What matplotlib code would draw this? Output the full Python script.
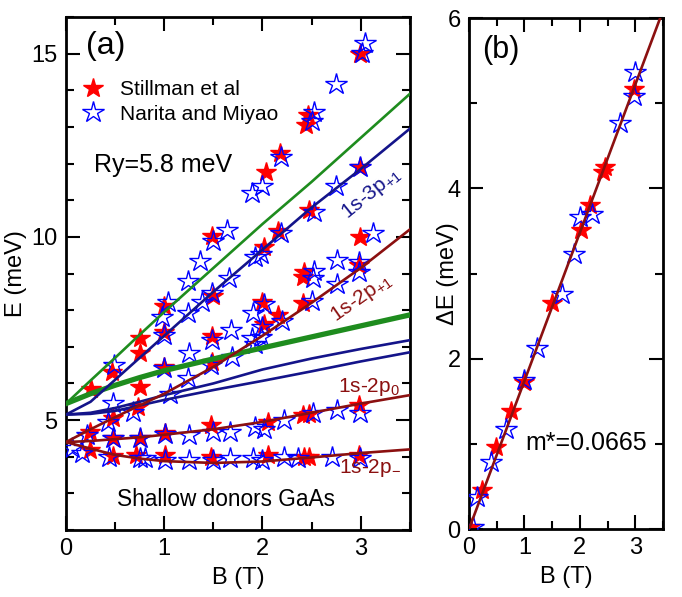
import numpy as np
import matplotlib
matplotlib.use('Agg')
import matplotlib.pyplot as plt
import matplotlib.ticker as ticker

plt.rcParams['font.family'] = ['Liberation Sans', 'DejaVu Sans']
plt.rcParams['mathtext.fontset'] = 'custom'
plt.rcParams['mathtext.rm'] = 'Liberation Sans'
plt.rcParams['mathtext.it'] = 'Liberation Sans:italic'

# ---- panel (a) theory curves
curve_b = [0, 0.25, 0.5, 0.75, 1.0, 1.5, 2.0, 2.5, 3.0, 3.5]
green_thin = [5.45, 6.08, 6.7, 7.33, 7.95, 9.15, 10.35, 11.5, 12.7, 13.9]
green_thick = [5.45, 5.72, 5.95, 6.16, 6.35, 6.67, 6.97, 7.27, 7.57, 7.87]
navy_3p = [5.15, 5.5, 6.1, 6.7, 7.3, 8.5, 9.65, 10.8, 11.85, 12.95]
navy_upper = [5.15, 5.2, 5.33, 5.5, 5.68, 6.0, 6.38, 6.68, 6.94, 7.18]
navy_lower = [5.15, 5.17, 5.25, 5.4, 5.55, 5.82, 6.07, 6.33, 6.6, 6.85]
red_2p_plus = [4.4, 4.75, 5.08, 5.4, 5.72, 6.45, 7.3, 8.2, 9.15, 10.2]
red_2p0 = [4.4, 4.43, 4.48, 4.53, 4.6, 4.75, 4.95, 5.2, 5.45, 5.68]
red_2p_minus = [4.4, 4.22, 4.05, 3.95, 3.88, 3.83, 3.87, 3.98, 4.1, 4.2]

# ---- panel (a) data: Stillman et al (red)
still_b = [0.24, 0.48, 0.71, 1.01, 1.48, 2.06, 2.42, 2.47, 2.98,
           0.24, 0.48, 0.75, 1.01, 1.48, 2.06, 2.41, 2.47, 2.98,
           0.48, 0.73, 0.25, 0.75, 0.47, 0.75, 0.75, 1.0, 1.0, 1.0,
           1.49, 1.49, 1.5, 1.49, 2.0, 2.02, 2.16, 2.41, 2.41, 2.42,
           2.02, 2.16, 2.47, 2.04, 2.18, 2.44, 2.46, 2.99, 2.99, 2.99, 2.98]
still_e = [4.18, 4.02, 4.05, 4.05, 4.0, 4.05, 4.0, 4.0, 4.05,
           4.68, 4.51, 4.51, 4.64, 4.86, 4.95, 5.14, 5.16, 5.41,
           5.05, 5.36, 5.85, 5.9, 6.3, 6.82, 7.25, 6.45, 7.41, 8.1,
           6.59, 7.3, 8.4, 10.02, 8.22, 7.63, 7.86, 8.2, 8.9, 9.04,
           9.72, 10.15, 10.72, 11.76, 12.3, 13.04, 13.32, 15.0, 11.9, 10.0, 9.22]

# ---- panel (a) data: Narita and Miyao (blue)
nar_b = [0.06, 0.16, 0.44, 0.75, 0.8, 1.01, 1.25, 1.5, 1.67, 1.9, 2.0, 2.22, 2.36, 2.71, 2.99,
         0.21, 0.48, 0.75, 1.01, 1.25, 1.5, 1.67, 1.92, 2.02, 2.22, 2.51, 2.76, 2.99,
         0.43, 0.68, 0.48, 1.06, 1.24, 1.0, 0.49, 1.25, 1.48, 1.69, 1.49, 1.68, 1.92,
         1.89, 1.99, 2.0, 2.2, 1.9, 2.02, 2.5, 2.76, 2.51, 2.52, 2.76, 2.98, 2.98, 3.13,
         0.98, 1.0, 1.04, 1.24, 1.38, 1.49, 1.24, 1.36, 1.66, 1.5, 1.64, 1.92, 1.99, 2.19,
         2.52, 2.75, 1.89, 2.0, 2.19, 2.5, 2.53, 2.75, 3.01, 3.04, 2.99]
nar_e = [4.24, 4.1, 4.0, 3.96, 3.96, 3.91, 3.91, 3.91, 3.96, 3.96, 3.91, 4.0, 3.96, 4.0, 3.96,
         4.59, 4.51, 4.51, 4.62, 4.59, 4.68, 4.68, 4.82, 4.77, 5.0, 5.18, 5.27, 5.18,
         4.96, 5.22, 5.46, 5.7, 6.14, 6.42, 6.5, 6.83, 6.5, 6.73, 7.18, 7.45, 7.09,
         7.23, 7.27, 7.54, 7.7, 7.92, 8.18, 8.25, 8.72, 8.87, 9.07, 9.36, 9.31, 9.04, 10.1,
         7.8, 7.32, 8.22, 7.92, 8.22, 8.46, 8.79, 9.33, 8.87, 9.9, 10.2, 9.45, 9.54, 10.1,
         10.69, 11.4, 11.19, 11.38, 12.17, 13.15, 13.42, 14.16, 15.03, 15.3, 11.9]

# ---- panel (b)
fit_b = [0, 3.5]
fit_de = [0, 6.09]
still_b2 = [0.02, 0.23, 0.49, 0.76, 1.0, 1.5, 2.02, 2.18, 2.41, 2.45, 2.98]
still_de2 = [0.02, 0.46, 0.96, 1.38, 1.73, 2.65, 3.51, 3.8, 4.19, 4.25, 5.17]
nar_b2 = [0.07, 0.15, 0.4, 0.67, 1.0, 1.22, 1.68, 1.9, 2.0, 2.21, 2.73, 2.98, 2.99]
nar_de2 = [0.02, 0.37, 0.79, 1.17, 1.75, 2.12, 2.76, 3.23, 3.66, 3.7, 4.77, 5.09, 5.37]

navy = '#14148a'
dred = '#8b1010'
green = '#1e8c1e'

fig = plt.figure(figsize=(6.82, 5.97), dpi=100)
ax1 = fig.add_axes([0.0968, 0.1122, 0.504, 0.8593])
ax2 = fig.add_axes([0.6877, 0.1139, 0.2845, 0.8559])

star_kw_red = dict(ls='none', marker='*', ms=15, color='red', mec='red')
star_kw_blue = dict(ls='none', marker='*', ms=16, mfc='none', mec='blue', mew=1.0)

# panel (a)
ax1.plot(still_b, still_e, label='Stillman et al', zorder=2, **star_kw_red)
ax1.plot(nar_b, nar_e, label='Narita and Miyao', zorder=3, **star_kw_blue)
ax1.plot(curve_b, green_thin, color=green, lw=1.9, zorder=4)
ax1.plot(curve_b, green_thick, color=green, lw=3.8, zorder=4)
for yy in (navy_3p, navy_upper, navy_lower):
    ax1.plot(curve_b, yy, color=navy, lw=1.9, zorder=4)
for yy in (red_2p_plus, red_2p0, red_2p_minus):
    ax1.plot(curve_b, yy, color=dred, lw=1.9, zorder=4)

ax1.set_xlim(0, 3.5)
ax1.set_ylim(2, 16)
ax1.xaxis.set_major_locator(ticker.MultipleLocator(1))
ax1.xaxis.set_minor_locator(ticker.MultipleLocator(0.5))
ax1.yaxis.set_major_locator(ticker.MultipleLocator(5))
ax1.yaxis.set_minor_locator(ticker.MultipleLocator(1))
ax1.set_xlabel('B (T)', fontsize=17, labelpad=5)
ax1.set_ylabel('E (meV)', fontsize=17, labelpad=3)

ax1.text(0.2, 15.2, '(a)', fontsize=23, va='center')
ax1.text(0.29, 11.95, 'Ry=5.8 meV', fontsize=18, va='center')
ax1.text(1.63, 2.82, 'Shallow donors GaAs', fontsize=16.3, va='center', ha='center')
ax1.text(3.11, 11.2, r'1s-3p$_{+1}$', fontsize=15, color=navy, rotation=39,
         ha='center', va='center')
ax1.text(3.01, 8.35, r'1s-2p$_{+1}$', fontsize=15, color=dred, rotation=35,
         ha='center', va='center')
ax1.text(3.09, 5.9, r'1s-2p$_0$', fontsize=15, color=dred, ha='center', va='center')
ax1.text(3.1, 3.68, r'1s-2p$_{-}$', fontsize=15, color=dred, ha='center', va='center')
ax1.legend(loc='upper left', bbox_to_anchor=(0.0, 0.905), frameon=False, fontsize=15,
           handlelength=1.2, handletextpad=0.7, labelspacing=0.25, borderaxespad=0.3)

# panel (b)
ax2.plot(still_b2, still_de2, zorder=2, **star_kw_red)
ax2.plot(nar_b2, nar_de2, zorder=3, **star_kw_blue)
ax2.plot(fit_b, fit_de, color=dred, lw=1.9, zorder=4)
ax2.set_xlim(0, 3.5)
ax2.set_ylim(0, 6)
ax2.xaxis.set_major_locator(ticker.MultipleLocator(1))
ax2.xaxis.set_minor_locator(ticker.MultipleLocator(0.5))
ax2.yaxis.set_major_locator(ticker.MultipleLocator(2))
ax2.yaxis.set_minor_locator(ticker.MultipleLocator(1))
ax2.set_xlabel('B (T)', fontsize=17, labelpad=5)
ax2.set_ylabel('ΔE (meV)', fontsize=17, labelpad=-8)
ax2.text(0.23, 5.63, '(b)', fontsize=22, va='center')
ax2.text(1.01, 1.01, 'm*=0.0665', fontsize=18, va='center')

for ax in (ax1, ax2):
    ax.tick_params(which='both', direction='in', top=True, right=True,
                   labelsize=17, pad=6, width=1.5)
    ax.tick_params(which='major', length=10)
    ax.tick_params(which='minor', length=5.5)
    for s in ax.spines.values():
        s.set_linewidth(2)

fig.savefig('out.png', dpi=100)
